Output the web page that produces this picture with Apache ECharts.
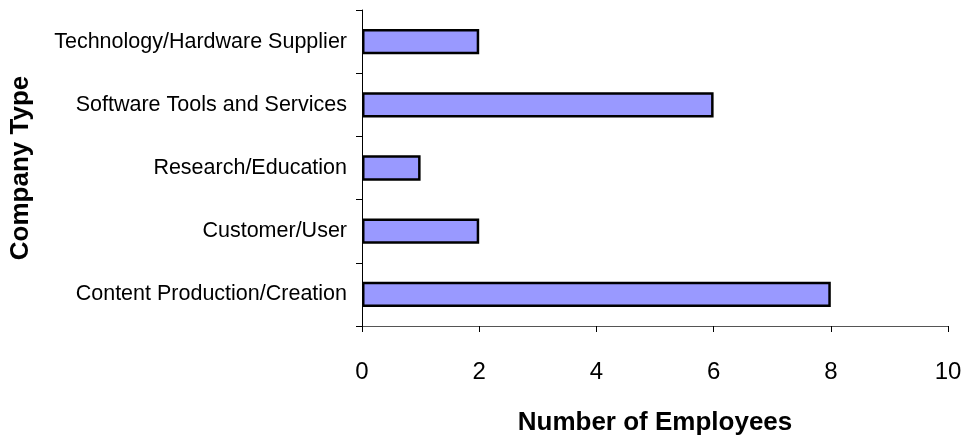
<!DOCTYPE html>
<html>
<head>
<meta charset="utf-8">
<script src="https://cdn.jsdelivr.net/npm/echarts@6/dist/echarts.min.js"></script>
<style>
  html, body { margin: 0; padding: 0; background: #fff; }
  #chart { width: 972px; height: 441px; }
</style>
</head>
<body>
<div id="chart"></div>
<script>
// Company types, listed bottom to top as the category axis draws them
const categories = [
  'Content Production/Creation',
  'Customer/User',
  'Research/Education',
  'Software Tools and Services',
  'Technology/Hardware Supplier'
];
const employees = [8, 2, 1, 6, 2];
const xTicks = [0, 2, 4, 6, 8, 10];

const FONT = '"Liberation Sans", Arial, sans-serif';
const chart = echarts.init(document.getElementById('chart'));

chart.setOption({
  animation: false,
  backgroundColor: '#ffffff',
  grid: { left: 362, right: 24, top: 10, bottom: 115, containLabel: false },
  xAxis: {
    type: 'value',
    min: xTicks[0],
    max: xTicks[xTicks.length - 1],
    interval: 2,
    name: 'Number of Employees',
    nameLocation: 'middle',
    nameGap: 84,
    nameTextStyle: { fontFamily: FONT, fontSize: 26, fontWeight: 'bold', color: '#000' },
    axisLine: { show: true, lineStyle: { color: '#555', width: 1 } },
    axisTick: { show: true, length: 6, lineStyle: { color: '#000' } },
    axisLabel: { fontFamily: FONT, fontSize: 24, color: '#000', margin: 34 },
    splitLine: { show: false }
  },
  yAxis: {
    type: 'category',
    data: categories,
    name: 'Company Type',
    nameLocation: 'middle',
    nameRotate: 90,
    nameGap: 328,
    nameTextStyle: { fontFamily: FONT, fontSize: 26, fontWeight: 'bold', color: '#000' },
    axisLine: { show: true, lineStyle: { color: '#000', width: 1 } },
    axisTick: { show: true, length: 6, alignWithLabel: false, lineStyle: { color: '#000' } },
    axisLabel: { fontFamily: FONT, fontSize: 21.5, color: '#000', margin: 15 },
    splitLine: { show: false }
  },
  series: [{
    type: 'bar',
    data: employees,
    barWidth: '40%',
    itemStyle: { color: '#9999ff', borderColor: '#000', borderWidth: 2.5 }
  }]
});
</script>
</body>
</html>
